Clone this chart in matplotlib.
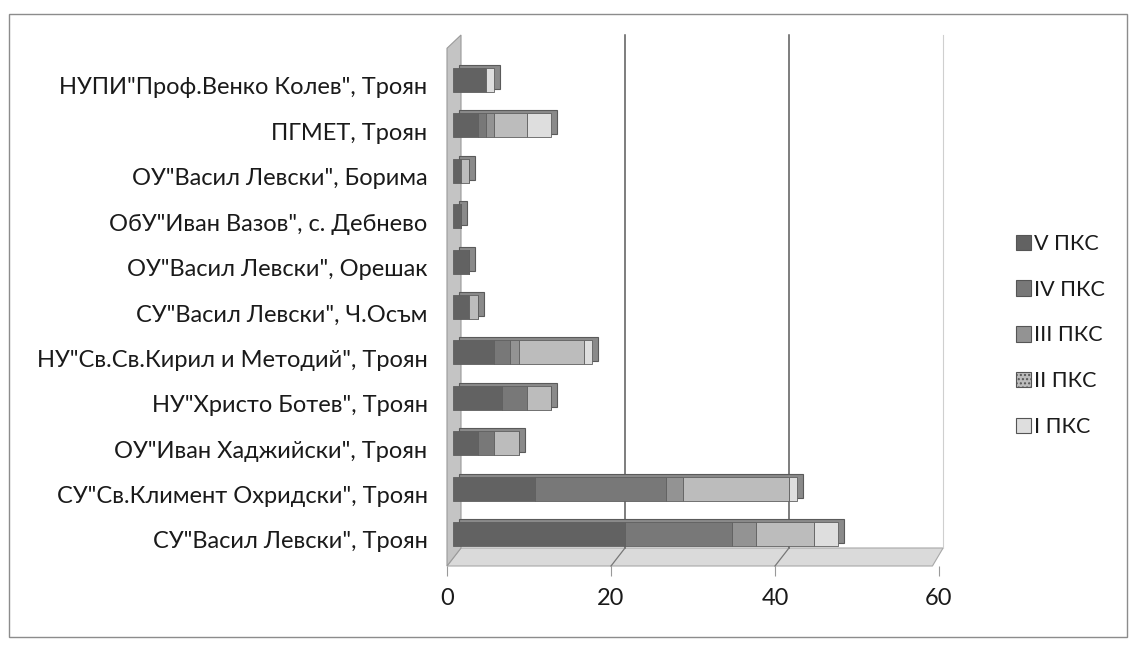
import matplotlib
matplotlib.use("Agg")
import matplotlib.pyplot as plt
from matplotlib.transforms import ScaledTranslation, blended_transform_factory
from matplotlib.patches import Polygon, Rectangle, Patch
import numpy as np

plt.rcParams['font.family'] = ['Lato', 'DejaVu Sans']

categories = [
    'СУ"Васил Левски", Троян',
    'СУ"Св.Климент Охридски", Троян',
    'ОУ"Иван Хаджийски", Троян',
    'НУ"Христо Ботев", Троян',
    'НУ"Св.Св.Кирил и Методий", Троян',
    'СУ"Васил Левски", Ч.Осъм',
    'ОУ"Васил Левски", Орешак',
    'ОбУ"Иван Вазов", с. Дебнево',
    'ОУ"Васил Левски", Борима',
    'ПГМЕТ, Троян',
    'НУПИ"Проф.Венко Колев", Троян',
]
series_names = ['V ПКС', 'IV ПКС', 'III ПКС', 'II ПКС', 'I ПКС']
v_pks   = [21, 10, 3, 6, 5, 2, 2, 1, 1, 3, 4]
iv_pks  = [13, 16, 2, 3, 2, 0, 0, 0, 0, 1, 0]
iii_pks = [3, 2, 0, 0, 1, 0, 0, 0, 0, 1, 0]
ii_pks  = [7, 13, 3, 3, 8, 1, 0, 0, 1, 4, 0]
i_pks   = [3, 1, 0, 0, 1, 0, 0, 0, 0, 3, 1]
x_ticks = [0, 20, 40, 60]

colors = ['#626262', '#787878', '#939393', '#bcbcbc', '#dedede']

W, H = 1134, 651
fig = plt.figure(figsize=(W / 100, H / 100), dpi=100)

ax_left, ax_right = 447, 939
ax_top, ax_bottom = 35, 566
ax = fig.add_axes([ax_left / W, 1 - ax_bottom / H, (ax_right - ax_left) / W,
                   (ax_bottom - ax_top) / H])
ax.set_xlim(0, 60)
ax.set_ylim(-0.705, 10.99)
for s in ax.spines.values():
    s.set_visible(False)
ax.patch.set_alpha(0)


def off(base, dx, dy):
    return base + ScaledTranslation(dx / 100, -dy / 100, fig.dpi_scale_trans)


bt = blended_transform_factory(ax.transData, ax.transAxes)
floor_back = (ax_bottom - 548) / (ax_bottom - ax_top)
dep = 14 / 8.2

# floor
floor = Polygon([(0, 0), (59.2, 0), (60.5, floor_back), (dep, floor_back)], closed=True,
                transform=bt, facecolor='#dadada', edgecolor='#a8a8a8', lw=0.8,
                zorder=1, clip_on=False)
ax.add_patch(floor)

# left wall
lw_poly = Polygon([(0, 0), (dep, floor_back), (dep, 1.0), (0, 0.975)],
                  closed=True, transform=bt, facecolor='#c4c4c4',
                  edgecolor='#9a9a9a', lw=0.8, zorder=1, clip_on=False)
ax.add_patch(lw_poly)

# back-wall gridlines and right edge
for xv in [20, 40]:
    ax.plot([xv + dep, xv + dep], [floor_back, 1.0], transform=bt,
            color='#5a5a5a', lw=1.1, zorder=1, clip_on=False)
    ax.plot([xv, xv + dep], [0, floor_back], transform=bt,
            color='#777777', lw=0.9, zorder=2, clip_on=False)
ax.plot([60.5, 60.5], [floor_back, 1.0], transform=bt, color='#cfcfcf',
        lw=0.8, zorder=1, clip_on=False)

# ticks
ax.set_xticks(x_ticks)
ax.set_xticklabels([str(t) for t in x_ticks], fontsize=17, color='#1a1a1a')
ax.tick_params(axis='x', length=7, width=0.8, color='#999999', pad=9)

y = np.arange(len(categories))
ax.set_yticks(y)
ax.set_yticklabels(categories, fontsize=17, color='#1a1a1a')
ax.tick_params(axis='y', length=0, pad=14)
for lab in ax.get_yticklabels():
    lab.set_transform(off(lab.get_transform(), 0, 6))

# bars with a fake depth
series = [v_pks, iv_pks, iii_pks, ii_pks, i_pks]
totals = np.sum(np.array(series), axis=0)
bar_h = 0.53
ax.barh(y, totals, height=bar_h, left=0, color='#8a8a8a', edgecolor='#5a5a5a',
        lw=0.8, transform=off(ax.transData, 12, -3), zorder=3)
left = np.zeros(len(categories))
for vals, col, name in zip(series, colors, series_names):
    ax.barh(y, vals, height=bar_h, left=left, color=col, edgecolor='#5f5f5f',
            lw=0.6, transform=off(ax.transData, 6, 0), zorder=4, label=name)
    left = left + np.array(vals)

# legend
handles = []
for col, name in zip(colors, series_names):
    hatch = '....' if name == 'II ПКС' else None
    handles.append(Patch(facecolor=col, edgecolor='#555555', lw=0.8, hatch=hatch,
                         label=name))
leg = fig.legend(handles=handles, loc='upper left',
                 bbox_to_anchor=(1005 / W, 1 - 223 / H), frameon=False,
                 fontsize=15.5, handlelength=0.72, handleheight=0.72,
                 handletextpad=0.15, labelspacing=1.2, borderpad=0)
for t in leg.get_texts():
    t.set_color('#1a1a1a')

# outer border
fig.patches.append(Rectangle((9 / W, 1 - 637 / H), (1127 - 9) / W, (637 - 14) / H,
                             transform=fig.transFigure, fill=False,
                             edgecolor='#8c8c8c', lw=1.0))

fig.savefig('out.png', dpi=100)
